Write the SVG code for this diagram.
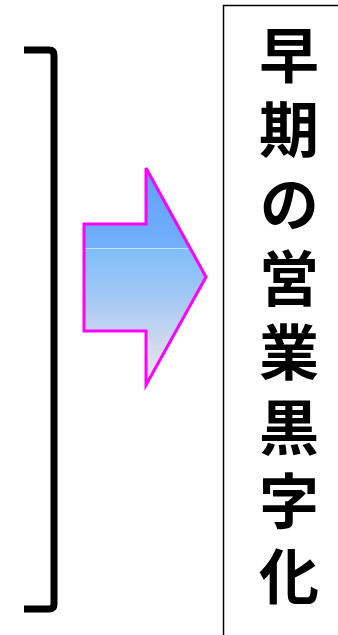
<svg xmlns="http://www.w3.org/2000/svg" width="338" height="635" viewBox="0 0 338 635">
<defs>
<linearGradient id="g" x1="0" y1="168" x2="0" y2="385" gradientUnits="userSpaceOnUse">
<stop offset="0" stop-color="#5f9ff8"/>
<stop offset="0.37" stop-color="#72b0fa"/>
<stop offset="0.37" stop-color="#d8ecff"/>
<stop offset="0.375" stop-color="#7fbefc"/>
<stop offset="0.6" stop-color="#a4c8f4"/>
<stop offset="0.8" stop-color="#cdd8ee"/>
<stop offset="1" stop-color="#f0e6f6"/>
</linearGradient>
<style>
.br{fill:none;stroke:#000;stroke-width:7;stroke-linejoin:round}
.ch{font-family:"Noto Sans CJK JP","Noto Sans CJK SC",sans-serif;font-weight:bold;font-size:60px;fill:#000;writing-mode:vertical-rl;text-orientation:upright;letter-spacing:14.4px}
</style>
</defs>
<g id="bracket">
<path class="br" d="M24,50 H49 Q54,50 54,55 V604 Q54,609 49,609 H24"/>
</g>
<g id="arrow">
<path d="M84,224 L146,224 L146,168 L206,277 L146,385 L146,331 L84,331 Z" fill="url(#g)" stroke="#ff00ff" stroke-width="3"/>
</g>
<g id="label">
<path d="M223.5,640 V5.5 H340" fill="none" stroke="#000" stroke-width="1.5"/>
<text class="ch" x="289" y="25">早期の営業黒字化</text>
</g>
</svg>
